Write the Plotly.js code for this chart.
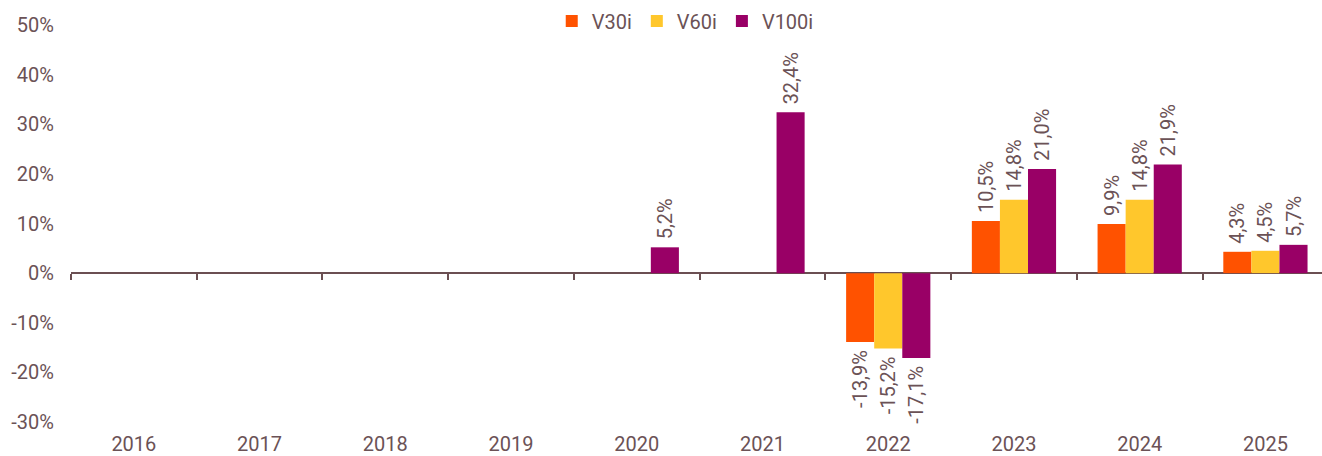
<!DOCTYPE html>
<html><head><meta charset="utf-8">
<script src="https://cdn.plot.ly/plotly-3.0.1.min.js"></script>
<style>html,body{margin:0;padding:0;background:#fff}#chart{width:1322px;height:456px}</style>
</head><body><div id="chart"></div>
<script>
const years = ['2016','2017','2018','2019','2020','2021','2022','2023','2024','2025'];
const v30i = [null,null,null,null,null,null,-13.9,10.5,9.9,4.3];
const v60i = [null,null,null,null,null,null,-15.2,14.8,14.8,4.5];
const v100i = [null,null,null,null,5.2,32.4,-17.1,21.0,21.9,5.7];
const yTicks = [-30,-20,-10,0,10,20,30,40,50];

const txtColor = '#6b5256';
const NB = '\u00a0';
const fmt = v => {
  if (v === null) return '';
  const s = v.toFixed(1).replace('.', ',') + '%';
  return v >= 0 ? NB + s : s + NB;
};
function mk(name, vals, color) {
  return {type:'bar', name:name, x:years, y:vals, marker:{color:color},
    text: vals.map(fmt), textposition:'outside', textangle:-90, cliponaxis:false,
    constraintext:'none', textfont:{family:'Roboto', size:20, color:txtColor},
    hoverinfo:'skip'};
}
const data = [
  mk('V30i', v30i, '#ff5200'),
  mk('V60i', v60i, '#ffc72c'),
  mk('V100i', v100i, '#990066'),
  {type:'scatter', x:[], y:[], xaxis:'x2', yaxis:'y', showlegend:false, hoverinfo:'skip'}
];
const n = years.length;
const bounds = years.map((_, i) => i - 0.5);
const layout = {
  width:1322, height:456,
  margin:{l:71, r:0, t:25, b:34},
  paper_bgcolor:'#fff', plot_bgcolor:'#fff',
  font:{family:'Roboto', color:txtColor, size:20},
  barmode:'group', bargap:0.33, bargroupgap:0,
  showlegend:true,
  legend:{orientation:'h', x:0.491, xanchor:'center', y:1.01, yanchor:'middle',
    font:{size:20, color:txtColor}, itemwidth:20, tracegroupgap:0},
  xaxis:{type:'category', range:[-0.5, n - 0.55], showgrid:false, showline:false,
    zeroline:false, ticks:'', ticklabelstandoff:8, tickfont:{size:20, color:txtColor}, fixedrange:true},
  xaxis2:{type:'linear', overlaying:'x', anchor:'free', position:0.375,
    range:[-0.5, n - 0.55], tickvals:bounds, ticks:'outside', ticklen:6, tickwidth:2,
    tickcolor:'#6b4f52', showticklabels:false, showgrid:false, zeroline:false, showline:false},
  yaxis:{range:[-30,50], tickvals:yTicks, ticktext:yTicks.map(v => v + '%'),
    showgrid:false, zeroline:true, zerolinecolor:'#6b4f52', zerolinewidth:2,
    showline:false, ticks:'', ticklabelstandoff:16, tickfont:{size:20, color:txtColor}}
};
Plotly.newPlot('chart', data, layout, {displayModeBar:false, staticPlot:true});
</script></body></html>
